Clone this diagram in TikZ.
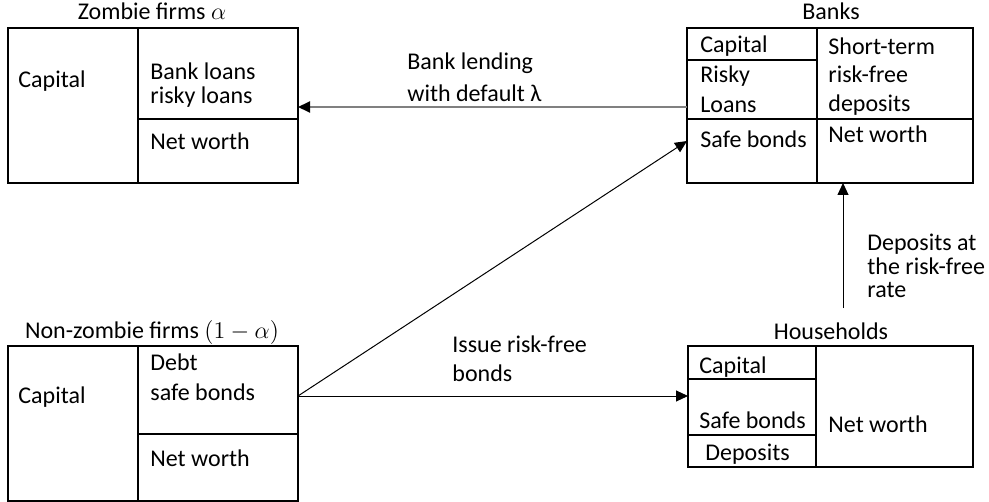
\documentclass[tikz,border=0pt]{standalone}
\usepackage{fontspec}
\setmainfont{Carlito}
\usetikzlibrary{arrows.meta}
\begin{document}
\begin{tikzpicture}[x=0.5pt,y=-0.5pt,
  box/.style={draw, line width=0.6pt, inner sep=0pt, outer sep=0pt},
  sep/.style={line width=0.6pt},
  txt/.style={anchor=base west, inner sep=0pt, font=\fontsize{12}{14}\selectfont},
  ttl/.style={anchor=base, inner sep=0pt, font=\fontsize{12}{14}\selectfont},
  arr/.style={-{Triangle[length=6pt,width=5.5pt,color=black]}, line width=0.5pt}]
\useasboundingbox (0,0) rectangle (989,502);

% boxes
\node[box, minimum width=145pt, minimum height=77.5pt] (zb) at (153,105.5) {};
\node[box, minimum width=143pt, minimum height=77.5pt] (bk) at (830,105.5) {};
\node[box, minimum width=145pt, minimum height=77.5pt] (nz) at (153,423.5) {};
\node[box, minimum width=142.5pt, minimum height=60.5pt] (hh) at (830.5,406.5) {};

% internal separators
\draw[sep] (138,28) -- (138,183);
\draw[sep] (138,119) -- (298,119);
\draw[sep] (817,28) -- (817,183);
\draw[sep] (687,60) -- (817,60);
\draw[sep] (687,119) -- (973,119);
\draw[sep] (138,346) -- (138,501);
\draw[sep] (138,434) -- (298,434);
\draw[sep] (816,346) -- (816,467);
\draw[sep] (688,379) -- (816,379);
\draw[sep] (688,435) -- (816,435);

% titles
\node[ttl] (tzb) at (152,20) {Zombie firms $\alpha$};
\node[ttl] (tbk) at (831,20) {Banks};
\node[ttl] (tnz) at (152,338) {Non-zombie firms $(1-\alpha)$};
\node[ttl] (thh) at (831,339) {Households};

% zombie texts
\node[txt] (z1) at (18,88) {Capital};
\node[txt] (z2) at (150,80) {Bank loans};
\node[txt] (z3) at (150,104) {risky loans};
\node[txt] (z4) at (150,150) {Net worth};

% bank texts
\node[txt] (b1) at (700,53) {Capital};
\node[txt] (b2) at (700,83) {Risky};
\node[txt] (b3) at (700,113) {Loans};
\node[txt] (b4) at (700,148) {Safe bonds};
\node[txt] (b5) at (828,55) {Short-term};
\node[txt] (b6) at (828,83) {risk-free};
\node[txt] (b7) at (828,112) {deposits};
\node[txt] (b8) at (828,143) {Net worth};

% non-zombie texts
\node[txt] (n1) at (18,403) {Capital};
\node[txt] (n2) at (150,370) {Debt};
\node[txt] (n3) at (150,400) {safe bonds};
\node[txt] (n4) at (150,466) {Net worth};

% household texts
\node[txt] (h1) at (699,373) {Capital};
\node[txt] (h2) at (699,428) {Safe bonds};
\node[txt] (h3) at (705,460) {Deposits};
\node[txt] (h4) at (828,432) {Net worth};

% arrows
\draw[arr, draw={rgb,255:red,128;green,128;blue,128}, line width=1pt] (bk.west |- 0,107) -- (zb.east |- 0,107);
\draw[arr] (nz.east |- 0,396) -- (bk.west |- 0,141);
\draw[arr] (nz.east |- 0,396) -- (hh.west |- 0,396);
\coordinate (dstart) at (843,308);
\draw[arr] (dstart) -- (dstart |- bk.south);

% arrow labels
\node[txt] (l1) at (407,70) {Bank lending};
\node[txt] (l2) at (407,102) {with default λ};
\node[txt] (l3) at (452,352) {Issue risk-free};
\node[txt] (l4) at (452,381) {bonds};
\node[txt] (l5) at (867,250) {Deposits at};
\node[txt] (l6) at (867,274) {the risk-free};
\node[txt] (l7) at (867,297) {rate};
\end{tikzpicture}
\end{document}
